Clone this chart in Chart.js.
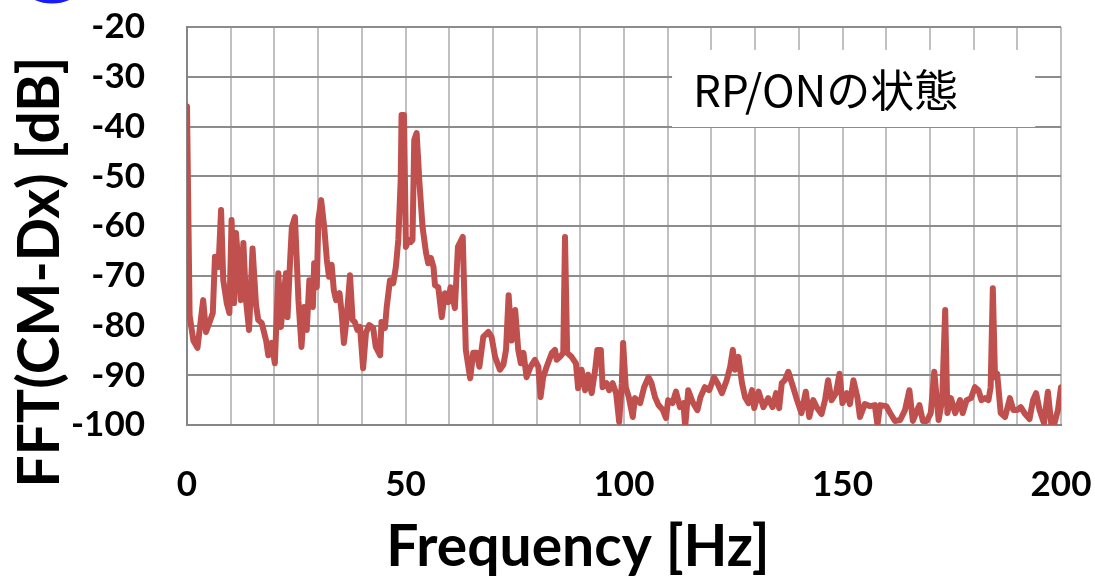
<!DOCTYPE html>
<html>
<head>
<meta charset="utf-8">
<script src="https://cdn.jsdelivr.net/npm/chart.js@4.4.0/dist/chart.umd.min.js"></script>
<style>
  html, body { margin: 0; padding: 0; background: #fff; }
  #wrap { width: 1095px; height: 580px; }
</style>
</head>
<body>
<div id="wrap"><canvas id="fftChart" width="1095" height="580"></canvas></div>
<script>
// FFT spectrum (Hz, dB)
const freqHz = [
  0, 0.6, 1.45, 2.4, 3.1, 3.7, 4.35, 5.3, 5.9, 6.4, 7.2, 7.8, 8.3, 9.1, 9.7, 10.2, 10.75, 11.2, 11.7, 12.3,
  12.9, 13.5, 14.2, 15.0, 15.8, 16.3, 17.1, 18.1, 18.6, 19.4, 20.1, 20.9, 21.5, 22.0, 22.65, 23.0, 23.6, 24.0, 24.7, 25.5,
  26.2, 26.8, 27.4, 28.0, 28.8, 29.1, 29.7, 30.05, 30.7, 31.4, 32.0, 32.5, 33.1, 33.6, 34.1, 34.9, 35.4, 35.9, 36.5, 37.3,
  37.9, 38.4, 39.0, 39.6, 40.3, 40.95, 41.7, 42.6, 43.2, 44.2, 44.5, 45.3, 45.7, 46.45, 47.2, 47.8, 48.35, 48.9, 49.1, 49.65,
  50.1, 50.65, 51.2, 51.6, 52.0, 52.55, 53.2, 53.9, 54.7, 55.2, 55.8, 56.4, 56.75, 57.5, 58.3, 59.0, 59.8, 60.3, 61.3, 62.0,
  63.1, 63.8, 64.8, 65.5, 66.3, 66.9, 67.8, 68.95, 69.7, 70.5, 71.6, 72.4, 73.0, 73.6, 74.3, 75.1, 75.8, 76.4, 77.0, 77.7,
  78.6, 79.6, 80.4, 80.9, 81.5, 82.3, 83.5, 84.2, 84.6, 85.35, 86.1, 86.5, 87.0, 88.0, 89.0, 89.5, 90.3, 91.1, 91.8, 92.6,
  93.4, 93.9, 94.7, 95.1, 96.0, 96.6, 97.4, 98.2, 98.9, 99.5, 99.8, 100.4, 101.1, 102.0, 102.5, 103.7, 104.6, 105.6, 106.3, 107.1,
  107.9, 108.9, 109.6, 110.1, 111.1, 111.9, 112.8, 113.6, 114.0, 114.7, 115.7, 116.8, 117.5, 118.5, 119.5, 120.6, 121.4, 122.4, 123.5, 124.3,
  124.9, 125.4, 126.2, 127.0, 127.7, 128.5, 129.3, 129.8, 130.8, 131.9, 133.0, 134.0, 134.8, 135.5, 136.1, 136.8, 137.6, 138.7, 139.6, 140.6,
  141.6, 142.4, 143.3, 144.2, 145.2, 146.0, 146.7, 147.5, 148.5, 149.3, 150.0, 151.0, 151.7, 152.5, 153.4, 154.0, 155.1, 156.3, 157.4, 158.0,
  158.6, 160.0, 160.9, 162.0, 163.2, 164.3, 165.3, 166.1, 167.0, 167.6, 168.4, 169.3, 170.2, 171.0, 172.0, 172.8, 173.5, 174.0, 174.8, 175.8,
  176.9, 177.5, 178.4, 179.4, 180.3, 181.1, 181.8, 182.6, 183.4, 183.9, 184.4, 184.9, 185.4, 186.2, 187.2, 188.3, 189.1, 190.0, 190.8, 191.8,
  192.8, 193.6, 194.3, 195.1, 196.1, 197.0, 197.8, 198.4, 199.3, 200
];
const levelDb = [
  -36, -78, -83, -84.5, -79.3, -74.9, -81.3, -79, -77.5, -66.2, -68.2, -56.8, -70.9, -75.5, -77.5, -58.8, -75.5, -61.4, -66.8, -74.9,
  -63.4, -74.9, -80.9, -64.5, -75.9, -78.9, -79.5, -83, -86, -83.5, -87.6, -69.5, -80.3, -74.9, -69.5, -78.3, -66.8, -60.2, -58.2, -74.9,
  -84.3, -76.3, -80.9, -70.9, -76.3, -67.5, -72.3, -58.8, -54.8, -60.2, -66.8, -70.2, -67.8, -72.9, -74.9, -73.5, -77.5, -83.5, -78.9, -69.9,
  -78.9, -79.3, -80.9, -80.3, -88.6, -81.5, -79.9, -80.5, -84.3, -86, -79.3, -80.5, -76.3, -70.9, -71.5, -68.2, -62.8, -50.8, -37.7, -37.7,
  -64.2, -62.8, -63.2, -62.8, -42.7, -41.3, -51.4, -60.2, -65.4, -67.5, -66.4, -68.2, -71.9, -72.3, -78.3, -73.5, -75.3, -72.3, -76.5, -64.2,
  -62.2, -84.9, -90.6, -85.5, -85.5, -88.3, -82.3, -81.3, -82.3, -86.3, -88.9, -87.9, -84.9, -73.9, -83, -76.9, -84.9, -87.6, -85.5, -90.4,
  -88.3, -86.9, -88.3, -94.4, -90.4, -88.3, -85.5, -84.9, -86.9, -86.3, -85.5, -62.2, -85.5, -86.3, -87.6, -92.6, -88.9, -93, -89.9, -93.6,
  -88.9, -84.9, -84.9, -92.4, -91.6, -93, -91.6, -93.6, -99.4, -91.6, -83.5, -92.4, -94.4, -98.4, -94.6, -95.6, -92.4, -90.4, -91.6, -94.4,
  -96, -97, -98.6, -95, -95.6, -93.3, -96.4, -95.6, -100.4, -93, -95.4, -97, -94.4, -92.4, -93, -90.4, -91.6, -93.6, -91, -88.3,
  -84.9, -88.9, -86.3, -91.6, -94.4, -95.6, -93, -96.6, -93.3, -96.4, -94.6, -96.4, -93.6, -96.6, -91.6, -91, -89.3, -92.4, -95, -97.6,
  -93.3, -98.4, -95, -96.6, -97.8, -95, -91, -95, -93.6, -89.7, -95.6, -93.6, -95.8, -91, -94.4, -98.4, -95.8, -96.2, -96, -100,
  -96, -96.2, -97.6, -99.2, -99, -97, -93, -99.2, -97.2, -96, -99.2, -99.2, -97.6, -89.3, -99, -95, -76.9, -97.6, -94.6, -97.6,
  -95, -97.6, -95, -94.6, -92.4, -93, -95, -94.6, -95, -92.4, -72.5, -90.4, -89.7, -97.6, -98.4, -94.6, -97, -97, -96.4, -97.8,
  -98.8, -95, -93.6, -97, -99.6, -93.3, -100, -100, -97, -92.4
];

const xRange = [0, 200];
const xLabelEvery = 50;
const yRange = [-100, -20];
const xTitle = "Frequency [Hz]";
const yTitle = "FFT(CM-Dx) [dB]";
const stateLabel = "RP/ONの状態";

const RED = "#c0504d";
const BOLD_FONT = "Lato";

// white label box sitting over the upper-right grid
const stateBoxPlugin = {
  id: "stateBox",
  beforeDatasetsDraw(chart) {
    const { ctx, scales } = chart;
    const x0 = scales.x.getPixelForValue(111);
    const x1 = scales.x.getPixelForValue(194.1);
    const y0 = scales.y.getPixelForValue(-24.6);
    const y1 = scales.y.getPixelForValue(-40.1);
    ctx.save();
    ctx.fillStyle = "#fff";
    ctx.fillRect(x0, y0, x1 - x0, y1 - y0);
    ctx.fillStyle = "#000";
    ctx.font = '44px "Noto Sans CJK JP"';
    ctx.textAlign = "left";
    ctx.textBaseline = "middle";
    ctx.fillText(stateLabel, x0 + 21, (y0 + y1) / 2 + 2);
    ctx.restore();
  },
};

// axis titles are drawn by hand because they sit off-centre in the original
const axisTitlePlugin = {
  id: "axisTitles",
  afterDraw(chart) {
    const { ctx, chartArea } = chart;
    ctx.save();
    ctx.fillStyle = "#000";
    ctx.font = `bold 57px ${BOLD_FONT}`;
    ctx.textAlign = "center";
    ctx.textBaseline = "middle";
    ctx.fillText(xTitle, chartArea.left + 391, 548);

    ctx.translate(41, chartArea.top + 245);
    ctx.rotate(-Math.PI / 2);
    ctx.fillText(yTitle, 0, 0);
    ctx.restore();

    // clipped blue circle at the top-left corner
    ctx.save();
    ctx.strokeStyle = "#1a1aff";
    ctx.lineWidth = 5;
    ctx.beginPath();
    ctx.arc(52, -39, 40, 0, Math.PI * 2);
    ctx.stroke();
    ctx.restore();
  },
};

const points = freqHz.map((f, i) => ({ x: f, y: levelDb[i] }));

new Chart(document.getElementById("fftChart"), {
  type: "line",
  data: {
    datasets: [
      {
        data: points,
        borderColor: RED,
        backgroundColor: RED,
        borderWidth: 6,
        pointRadius: 0,
        tension: 0,
        borderJoinStyle: "round",
        borderCapStyle: "round",
      },
    ],
  },
  options: {
    responsive: false,
    animation: false,
    events: [],
    layout: { padding: { top: 27, right: 34, left: 0, bottom: 0 } },
    plugins: { legend: { display: false }, tooltip: { enabled: false } },
    scales: {
      x: {
        type: "linear",
        min: xRange[0],
        max: xRange[1],
        afterFit: (scale) => {
          scale.height = 155;
          scale.paddingLeft = 0;
          scale.paddingRight = 0;
        },
        grid: { color: "#c0c0c0", lineWidth: 2, drawTicks: false },
        border: { color: "#868686", width: 2 },
        ticks: {
          stepSize: 10,
          autoSkip: false,
          maxRotation: 0,
          padding: 39,
          color: "#000",
          font: { family: BOLD_FONT, size: 35, weight: "bold" },
          callback: (v) => (v % xLabelEvery === 0 ? String(v) : ""),
        },
      },
      y: {
        min: yRange[0],
        max: yRange[1],
        afterFit: (scale) => {
          scale.width = 187;
          scale.paddingTop = 0;
          scale.paddingBottom = 0;
        },
        grid: { color: "#8c8c8c", lineWidth: 2, drawTicks: false },
        border: { color: "#868686", width: 2 },
        ticks: {
          stepSize: 10,
          padding: 42,
          color: "#000",
          font: { family: BOLD_FONT, size: 35, weight: "bold" },
        },
      },
    },
  },
  plugins: [stateBoxPlugin, axisTitlePlugin],
});
</script>
</body>
</html>
